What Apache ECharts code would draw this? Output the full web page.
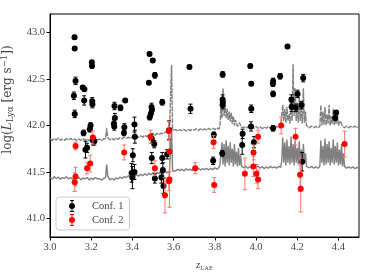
<!DOCTYPE html>
<html><head><meta charset="utf-8">
<script src="https://cdn.jsdelivr.net/npm/echarts@6/dist/echarts.min.js"></script>
<style>html,body{margin:0;padding:0;background:#fff}#c{width:374px;height:280px}</style>
</head><body><div id="c"></div>
<script>
const xTicks = [3.0, 3.2, 3.4, 3.6, 3.8, 4.0, 4.2, 4.4];
const yTicks = [41.0, 41.5, 42.0, 42.5, 43.0];

const conf1Z = [3.119,3.120,3.124,3.116,3.120,3.159,3.167,3.166,3.163,3.172,3.180,3.193,3.197,3.203,3.204,3.205,3.206,3.208,3.215,
  3.313,3.315,3.310,3.312,3.342,3.365,3.361,3.359,3.410,3.412,3.402,3.396,3.400,3.410,
  3.483,3.499,3.509,3.480,3.493,3.495,3.490,3.484,3.545,3.494,3.506,3.494,3.509,3.541,3.545,3.548,3.551,3.569,3.578,
  3.677,3.682,3.795,3.792,3.838,3.838,3.839,3.838,3.836,3.935,3.933,3.972,3.977,3.977,3.976,3.990,
  4.083,4.082,4.083,4.083,4.117,4.153,4.172,4.173,4.193,4.202,4.221,4.229,4.224,4.389,4.384];
const conf1L = [42.95,42.83,42.48,42.32,42.125,42.41,42.39,42.27,41.92,41.74,41.76,41.96,42.00,42.68,42.64,42.26,42.23,41.84,41.83,
  42.21,42.08,42.02,41.99,42.19,42.27,41.98,41.92,42.01,41.88,41.68,41.49,41.44,41.50,
  42.77,42.70,42.54,42.46,42.20,42.17,42.13,42.09,42.25,41.86,41.80,41.65,41.43,41.44,41.65,41.52,41.35,41.69,41.95,
  42.63,42.18,41.90,41.62,42.55,42.28,42.25,42.22,41.70,41.91,41.79,42.64,42.45,42.18,41.99,41.82,
  42.48,42.45,42.34,41.97,42.53,42.85,42.28,42.20,42.19,42.34,42.22,42.51,41.61,42.14,42.08];
const conf1Err = [0.02,0.02,0.04,0.04,0.04,0.02,0.02,0.05,0.03,0.09,0.05,0.03,0.03,0.02,0.02,0.04,0.04,0.05,0.04,
  0.04,0.05,0.04,0.04,0.03,0.02,0.04,0.03,0.08,0.07,0.07,0.10,0.12,0.08,
  0.02,0.02,0.03,0.02,0.04,0.03,0.03,0.03,0.03,0.05,0.04,0.06,0.05,0.06,0.06,0.08,0.08,0.05,0.10,
  0.02,0.05,0.03,0.04,0.03,0.05,0.04,0.04,0.03,0.05,0.10,0.02,0.02,0.04,0.05,0.06,
  0.03,0.03,0.03,0.03,0.03,0.02,0.05,0.05,0.04,0.04,0.04,0.04,0.10,0.02,0.02];

const conf2Z = [3.124,3.124,3.120,3.180,3.195,3.208,3.360,3.488,3.509,3.558,3.577,3.580,3.580,3.577,
  3.705,3.794,3.797,3.946,3.988,3.987,4.002,4.010,4.010,4.122,4.192,4.214,4.217,4.430];
const conf2L = [41.78,41.45,41.39,41.54,41.59,41.87,41.71,41.88,41.54,41.25,41.94,41.72,41.42,41.40,
  41.54,41.82,41.36,41.48,41.71,41.56,41.48,41.42,41.88,42.00,41.88,41.47,41.32,41.80];
const conf2Err = [0.04,0.10,0.10,0.06,0.09,0.07,0.08,0.07,0.08,0.19,0.10,0.22,0.30,0.10,
  0.06,0.07,0.08,0.17,0.08,0.11,0.10,0.10,0.07,0.09,0.09,0.18,0.25,0.14];

const lowerCurve = [[3.00,41.44],[3.01,41.425],[3.02,41.45],[3.03,41.43],[3.04,41.445],[3.05,41.42],[3.06,41.44],[3.07,41.43],[3.08,41.45],[3.09,41.425],
  [3.10,41.44],[3.11,41.42],[3.12,41.445],[3.13,41.43],[3.14,41.44],[3.15,41.415],[3.16,41.435],[3.17,41.425],[3.18,41.44],[3.19,41.415],
  [3.20,41.435],[3.21,41.42],[3.22,41.44],[3.23,41.425],[3.24,41.43],[3.25,41.41],[3.26,41.43],[3.27,41.44],[3.275,41.58],[3.28,41.46],[3.29,41.415],
  [3.30,41.43],[3.31,41.415],[3.32,41.435],[3.33,41.425],[3.34,41.445],[3.35,41.43],[3.36,41.45],[3.37,41.44],[3.38,41.46],[3.39,41.445],
  [3.40,41.465],[3.41,41.45],[3.42,41.47],[3.43,41.455],[3.44,41.475],[3.45,41.46],[3.46,41.48],[3.47,41.465],[3.48,41.485],[3.49,41.47],
  [3.50,41.49],[3.51,41.475],[3.52,41.495],[3.53,41.48],[3.54,41.50],[3.55,41.485],[3.56,41.505],[3.57,41.49],[3.58,41.505],[3.585,41.50],[3.59,41.98],[3.595,41.51],
  [3.60,41.525],[3.61,41.51],[3.62,41.53],[3.63,41.515],[3.64,41.53],[3.65,41.51],[3.66,41.535],[3.67,41.52],[3.68,41.53],[3.69,41.515],
  [3.70,41.535],[3.71,41.52],[3.72,41.54],[3.73,41.52],[3.74,41.535],[3.75,41.525],[3.76,41.54],[3.77,41.52],[3.78,41.54],[3.79,41.525],
  [3.80,41.545],[3.81,41.53],[3.82,41.545],[3.825,41.58],[3.83,41.60],[3.835,41.82],[3.84,41.58],[3.845,41.80],[3.85,41.56],[3.855,41.84],
  [3.86,41.60],[3.865,41.78],[3.87,41.57],[3.875,41.82],[3.88,41.60],[3.885,41.75],[3.89,41.56],[3.895,41.80],[3.90,41.58],[3.905,41.72],
  [3.91,41.56],[3.915,41.76],[3.92,41.57],[3.925,41.68],[3.93,41.56],[3.94,41.545],[3.95,41.56],[3.96,41.54],[3.97,41.555],[3.98,41.54],
  [3.99,41.56],[4.00,41.545],[4.01,41.565],[4.02,41.54],[4.03,41.555],[4.04,41.535],[4.05,41.555],[4.06,41.54],[4.07,41.56],[4.08,41.545],
  [4.09,41.555],[4.10,41.54],[4.11,41.56],[4.12,41.55],[4.125,41.62],[4.13,41.87],[4.135,41.60],[4.14,41.82],[4.145,41.57],[4.15,41.85],
  [4.155,41.60],[4.16,41.78],[4.165,41.58],[4.17,41.88],[4.175,41.60],[4.18,41.80],[4.185,41.57],[4.19,41.84],[4.195,41.60],[4.20,41.76],
  [4.205,41.58],[4.21,41.83],[4.215,41.60],[4.22,41.74],[4.225,41.57],[4.23,41.80],[4.235,41.60],[4.24,41.70],[4.245,41.56],[4.25,41.565],
  [4.26,41.545],[4.27,41.56],[4.28,41.54],[4.29,41.555],[4.30,41.54],[4.31,41.56],[4.315,41.84],[4.32,41.60],[4.325,41.78],[4.33,41.57],
  [4.335,41.86],[4.34,41.58],[4.345,41.80],[4.35,41.60],[4.355,41.83],[4.36,41.57],[4.365,41.76],[4.37,41.60],[4.375,41.85],[4.38,41.58],
  [4.385,41.78],[4.39,41.60],[4.395,41.82],[4.40,41.57],[4.405,41.74],[4.41,41.58],[4.415,41.80],[4.42,41.56],[4.425,41.70],[4.43,41.56],
  [4.44,41.54],[4.45,41.555],[4.46,41.54],[4.47,41.555],[4.48,41.535],[4.49,41.55],[4.50,41.54]];

const upperCurve = [[3.00,41.855],[3.01,41.84],[3.02,41.86],[3.03,41.845],[3.04,41.865],[3.05,41.84],[3.06,41.855],[3.07,41.84],[3.08,41.86],[3.09,41.845],
  [3.10,41.86],[3.11,41.84],[3.12,41.855],[3.13,41.835],[3.14,41.855],[3.15,41.84],[3.16,41.86],[3.17,41.84],[3.18,41.855],[3.19,41.835],
  [3.20,41.855],[3.21,41.84],[3.22,41.86],[3.23,41.845],[3.24,41.855],[3.25,41.835],[3.26,41.855],[3.27,41.86],[3.275,41.97],[3.28,41.87],[3.29,41.845],
  [3.30,41.86],[3.31,41.845],[3.32,41.865],[3.33,41.85],[3.34,41.87],[3.35,41.855],[3.36,41.875],[3.37,41.86],[3.38,41.875],[3.39,41.86],
  [3.40,41.88],[3.41,41.865],[3.42,41.885],[3.43,41.87],[3.44,41.89],[3.45,41.875],[3.46,41.895],[3.47,41.88],[3.48,41.90],[3.49,41.885],
  [3.50,41.905],[3.51,41.895],[3.52,41.915],[3.53,41.90],[3.54,41.92],[3.55,41.91],[3.56,41.93],[3.57,41.92],[3.58,41.94],[3.585,41.935],[3.59,42.65],[3.595,41.95],
  [3.60,41.94],[3.61,41.955],[3.62,41.94],[3.63,41.955],[3.64,41.945],[3.65,41.96],[3.66,41.94],[3.67,41.96],[3.68,41.945],[3.69,41.96],
  [3.70,41.95],[3.71,41.965],[3.72,41.945],[3.73,41.965],[3.74,41.95],[3.75,41.965],[3.76,41.95],[3.77,41.97],[3.78,41.955],[3.79,41.97],
  [3.80,41.955],[3.81,41.975],[3.82,41.96],[3.825,42.00],[3.83,42.20],[3.835,42.08],[3.84,42.40],[3.845,42.10],[3.85,42.22],[3.855,42.08],
  [3.86,42.18],[3.865,42.06],[3.87,42.15],[3.875,42.04],[3.88,42.14],[3.885,42.02],[3.89,42.10],[3.895,42.00],[3.90,42.06],[3.91,41.99],
  [3.92,42.03],[3.93,41.975],[3.94,41.985],[3.95,41.97],[3.96,41.985],[3.97,41.965],[3.98,41.985],[3.99,41.97],[4.00,41.99],[4.01,41.97],
  [4.02,41.985],[4.03,41.965],[4.04,41.985],[4.05,41.97],[4.06,41.99],[4.07,41.97],[4.08,41.985],[4.09,41.97],[4.10,41.99],[4.11,41.975],
  [4.12,41.99],[4.125,42.00],[4.13,42.22],[4.135,42.05],[4.14,42.18],[4.145,42.03],[4.15,42.20],[4.155,42.05],[4.16,42.12],[4.165,42.02],
  [4.17,42.30],[4.175,42.05],[4.18,42.66],[4.185,42.10],[4.19,42.40],[4.195,42.05],[4.20,42.25],[4.205,42.03],[4.21,42.30],[4.215,42.05],
  [4.22,42.20],[4.225,42.02],[4.23,42.40],[4.235,42.03],[4.24,42.15],[4.245,42.00],[4.25,41.99],[4.26,41.975],[4.27,41.995],[4.28,41.975],
  [4.29,41.99],[4.30,41.975],[4.31,41.99],[4.315,42.22],[4.32,42.00],[4.325,42.15],[4.33,42.01],[4.335,42.20],[4.34,42.00],[4.345,42.12],
  [4.35,42.02],[4.355,42.22],[4.36,42.00],[4.365,42.10],[4.37,42.02],[4.375,42.18],[4.38,42.00],[4.385,42.10],[4.39,42.02],[4.395,42.15],
  [4.40,42.00],[4.41,42.05],[4.42,41.99],[4.43,41.975],[4.44,41.995],[4.45,41.975],[4.46,41.99],[4.47,41.98],[4.48,41.995],[4.49,41.975],[4.50,41.99]];

const FONT = 'Liberation Serif';
const LFONT = 'DejaVu Serif';
const TXT = '#444';

function errRender(color) {
  return function (params, api) {
    const x = api.value(0), y = api.value(1), e = api.value(2);
    const a = api.coord([x, y + e]), b = api.coord([x, y - e]);
    const st = { stroke: color, lineWidth: 1 };
    return { type: 'group', children: [
      { type: 'line', shape: { x1: a[0], y1: a[1], x2: b[0], y2: b[1] }, style: st },
      { type: 'line', shape: { x1: a[0] - 2, y1: a[1], x2: a[0] + 2, y2: a[1] }, style: st },
      { type: 'line', shape: { x1: b[0] - 2, y1: b[1], x2: b[0] + 2, y2: b[1] }, style: st }
    ]};
  };
}

const legendIcon = 'path://M0,6L0,6M30,6L30,6M13,0H17V1H13ZM14.5,0H15.5V12H14.5ZM13,11H17V12H13ZM18,6A3,3,0,1,1,12,6A3,3,0,1,1,18,6Z';

const chart = echarts.init(document.getElementById('c'), null, { renderer: 'canvas' });
chart.setOption({
  animation: false,
  backgroundColor: '#fff',
  grid: { left: 50, top: 14, right: 15, bottom: 43, containLabel: false, outerBoundsMode: 'none',
    show: true, borderColor: '#000', borderWidth: 1, backgroundColor: 'transparent' },
  legend: {
    left: 56, top: 197, orient: 'vertical', icon: legendIcon, itemWidth: 30, itemHeight: 12, itemGap: 2,
    padding: [3, 6, 4, 1], borderColor: '#cccccc', borderWidth: 1, borderRadius: 3,
    backgroundColor: 'rgba(255,255,255,0.8)',
    textStyle: { fontFamily: FONT, fontSize: 10.5, color: TXT },
    data: [{ name: 'Conf. 1' }, { name: 'Conf. 2' }]
  },
  xAxis: {
    type: 'value', min: 3.0, max: 4.5,
    axisLine: { show: true, lineStyle: { color: '#000', width: 1 } },
    axisTick: { show: true, length: 3.5, inside: false, customValues: xTicks, lineStyle: { color: '#000' } },
    axisLabel: { customValues: xTicks, formatter: v => v.toFixed(1), fontFamily: FONT, fontSize: 10.5, color: TXT, margin: 5 },
    splitLine: { show: false },
    name: '{i|z}{s|LAE}', nameLocation: 'middle', nameGap: 21,
    nameTextStyle: { rich: {
      i: { fontFamily: FONT, fontStyle: 'italic', fontSize: 11, color: TXT, lineHeight: 14 },
      s: { fontFamily: FONT, fontSize: 6.5, color: TXT, lineHeight: 7, verticalAlign: 'bottom' }
    } }
  },
  yAxis: {
    type: 'value', min: 40.8, max: 43.2,
    axisLine: { show: true, lineStyle: { color: '#000', width: 1 } },
    axisTick: { show: true, length: 3.5, inside: false, customValues: yTicks, lineStyle: { color: '#000' } },
    axisLabel: { customValues: yTicks, formatter: v => v.toFixed(1), fontFamily: FONT, fontSize: 10.5, color: TXT, margin: 5 },
    splitLine: { show: false },
    name: '{t|log(}{i|L}{s|Lyα}{t| [erg s}{p|−1}{t|])}', nameLocation: 'middle', nameGap: 27, nameRotate: 90,
    nameTextStyle: { padding: [0, 0, 0, 52], rich: {
      t: { fontFamily: LFONT, fontSize: 12, color: TXT, lineHeight: 15 },
      i: { fontFamily: LFONT, fontStyle: 'italic', fontSize: 12, color: TXT, lineHeight: 15 },
      s: { fontFamily: LFONT, fontSize: 8.5, color: TXT, lineHeight: 8, verticalAlign: 'bottom' },
      p: { fontFamily: LFONT, fontSize: 8.5, color: TXT, lineHeight: 8, verticalAlign: 'top' }
    } }
  },
  series: [
    { type: 'line', name: 'lower', data: lowerCurve, symbol: 'none', silent: true, z: 1,
      lineStyle: { color: '#808080', width: 1.4 } },
    { type: 'line', name: 'upper', data: upperCurve, symbol: 'none', silent: true, z: 1,
      lineStyle: { color: '#808080', width: 1.4, type: [5, 1] } },
    { type: 'custom', name: 'err1', renderItem: errRender('#000'), encode: { x: 0, y: 1 }, z: 2,
      data: conf1Z.map((z, i) => [z, conf1L[i], conf1Err[i]]) },
    { type: 'scatter', name: 'Conf. 1', symbolSize: 6, itemStyle: { color: '#000', opacity: 1 }, z: 3,
      data: conf1Z.map((z, i) => [z, conf1L[i]]) },
    { type: 'custom', name: 'err2', renderItem: errRender('#ff7070'), encode: { x: 0, y: 1 }, z: 4,
      data: conf2Z.map((z, i) => [z, conf2L[i], conf2Err[i]]) },
    { type: 'scatter', name: 'Conf. 2', symbolSize: 6, itemStyle: { color: '#ff0000', opacity: 1 }, z: 5,
      data: conf2Z.map((z, i) => [z, conf2L[i]]) }
  ]
});
</script>
</body></html>
